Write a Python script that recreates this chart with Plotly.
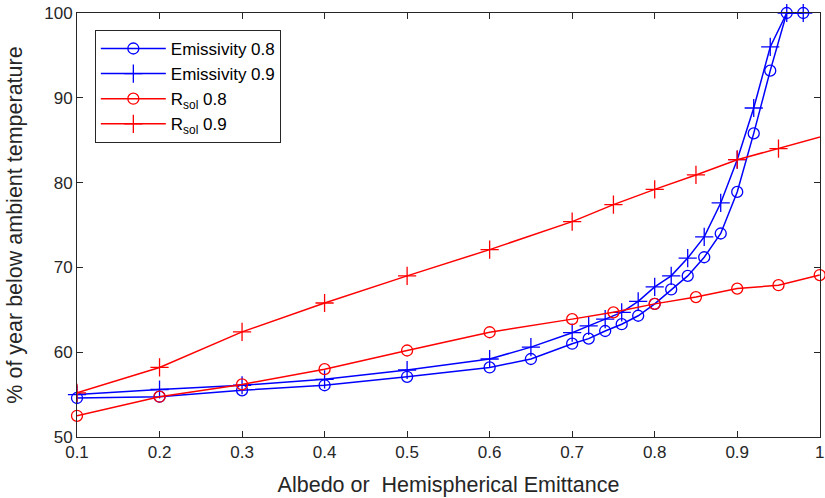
import plotly.graph_objects as go

# Emissivity 0.8 (blue, circles)
emis08_x = [0.1, 0.2, 0.3, 0.4, 0.5, 0.6, 0.65, 0.7, 0.72, 0.74, 0.76, 0.78, 0.8, 0.82, 0.84, 0.86, 0.88, 0.9, 0.92, 0.94, 0.96, 0.98]
emis08_y = [54.6, 54.75, 55.5, 56.1, 57.1, 58.2, 59.2, 61.0, 61.6, 62.5, 63.3, 64.3, 65.7, 67.4, 69.0, 71.2, 74.0, 78.9, 85.8, 93.2, 100.0, 100.0]

# Emissivity 0.9 (blue, crosses)
emis09_x = [0.1, 0.2, 0.3, 0.4, 0.5, 0.6, 0.65, 0.7, 0.72, 0.74, 0.76, 0.78, 0.8, 0.82, 0.84, 0.86, 0.88, 0.9, 0.92, 0.94, 0.96, 0.98]
emis09_y = [55.0, 55.6, 56.1, 56.8, 57.9, 59.2, 60.6, 62.3, 63.1, 63.9, 64.7, 66.0, 67.7, 69.0, 71.1, 73.6, 77.6, 82.7, 88.8, 96.0, 100.0, 100.0]

# Rsol 0.8 (red, circles)
rsol08_x = [0.1, 0.2, 0.3, 0.4, 0.5, 0.6, 0.7, 0.75, 0.8, 0.85, 0.9, 0.95, 1.0]
rsol08_y = [52.5, 54.75, 56.2, 58.0, 60.2, 62.35, 63.9, 64.7, 65.7, 66.5, 67.5, 67.9, 69.1]

# Rsol 0.9 (red, crosses)
rsol09_x = [0.1, 0.2, 0.3, 0.4, 0.5, 0.6, 0.7, 0.75, 0.8, 0.85, 0.9, 0.95, 1.05]
rsol09_y = [55.2, 58.2, 62.4, 65.8, 69.0, 72.1, 75.4, 77.4, 79.2, 80.9, 82.7, 84.0, 86.7]

x_ticks = [0.1, 0.2, 0.3, 0.4, 0.5, 0.6, 0.7, 0.8, 0.9, 1.0]
x_ticklabels = ["0.1", "0.2", "0.3", "0.4", "0.5", "0.6", "0.7", "0.8", "0.9", "1"]
y_ticks = [50, 60, 70, 80, 90, 100]

BLUE = "#0000FF"
RED = "#FF0000"
FONT = "Liberation Sans, Arial, sans-serif"
AX = "#262626"

fig = go.Figure()

def add(x, y, name, color, symbol, size, clip):
    fig.add_trace(go.Scatter(
        x=x, y=y, name=name, mode="lines+markers",
        line=dict(color=color, width=1.5),
        marker=dict(symbol=symbol, size=size, color=color,
                    line=dict(color=color, width=1.3)),
        cliponaxis=clip,
    ))

add(emis08_x, emis08_y, "Emissivity 0.8", BLUE, "circle-open", 11, False)
add(emis09_x, emis09_y, "Emissivity 0.9", BLUE, "cross-thin-open", 13, False)
add(rsol08_x, rsol08_y, "R<sub>sol</sub> 0.8", RED, "circle-open", 11, False)
add(rsol09_x, rsol09_y, "R<sub>sol</sub> 0.9", RED, "cross-thin-open", 13, True)

axis_common = dict(
    showline=True, linecolor=AX, linewidth=1, mirror="ticks",
    ticks="inside", ticklen=6, tickcolor=AX, tickwidth=1,
    showgrid=False, zeroline=False, automargin=False,
    tickfont=dict(family=FONT, size=17, color=AX),
)

fig.update_layout(
    width=825, height=498,
    margin=dict(l=77, r=5, t=13, b=61),
    paper_bgcolor="white", plot_bgcolor="white",
    font=dict(family=FONT, color=AX),
    xaxis=dict(range=[0.1, 1.0003], tickvals=x_ticks, ticktext=x_ticklabels,
               title=dict(text="Albedo or  Hemispherical Emittance",
                          font=dict(family=FONT, size=21.5, color=AX)),
               **axis_common),
    yaxis=dict(range=[50, 100.001], tickvals=y_ticks,
               title=dict(text="% of year below ambient temperature",
                          font=dict(family=FONT, size=21.5, color=AX)),
               **axis_common),
    legend=dict(x=0.024, y=0.96, xanchor="left", yanchor="top",
                bgcolor="white", bordercolor=AX, borderwidth=1,
                font=dict(family=FONT, size=17, color="#000000"),
                itemwidth=65, tracegroupgap=0),
    showlegend=True,
)

fig.write_html(
    "out.html",
    config={"displayModeBar": False},
    post_script="document.body.style.margin='0';document.body.style.overflow='hidden';",
)
